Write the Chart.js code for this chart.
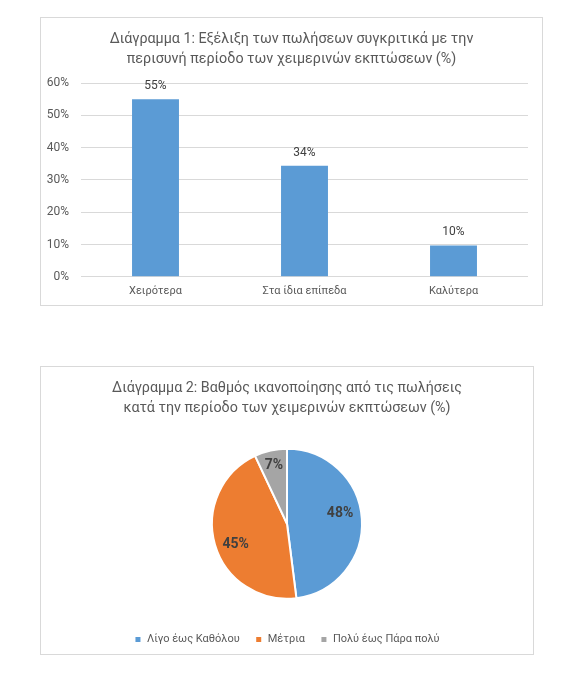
<!DOCTYPE html>
<html>
<head>
<meta charset="utf-8">
<script src="https://cdn.jsdelivr.net/npm/chart.js@4.4.1/dist/chart.umd.min.js"></script>
<style>
  html, body { margin: 0; padding: 0; background: #ffffff; }
  body { width: 571px; height: 681px; position: relative; overflow: hidden; }
  .box { position: absolute; border: 1px solid #d9d9d9; box-sizing: border-box; }
  canvas { position: absolute; }
</style>
</head>
<body>
<div class="box" style="left:40px;top:17px;width:503px;height:289px;"></div>
<canvas id="bar" style="left:40px;top:17px;" width="503" height="289"></canvas>
<div class="box" style="left:40px;top:366px;width:494px;height:289px;"></div>
<canvas id="pie" style="left:40px;top:366px;" width="494" height="289"></canvas>
<script>
// ---- Data ----
const barTitle = ["Διάγραμμα 1: Εξέλιξη των πωλήσεων συγκριτικά με την", "περισυνή περίοδο των χειμερινών εκπτώσεων (%)"];
const barCategories = ["Χειρότερα", "Στα ίδια επίπεδα", "Καλύτερα"];
const barValues = [55, 34.4, 9.7];
const barTickMax = 60;
const barTickStep = 10;

const pieTitle = ["Διάγραμμα 2: Βαθμός ικανοποίησης από τις πωλήσεις", "κατά την περίοδο των χειμερινών εκπτώσεων (%)"];
const pieCategories = ["Λίγο έως Καθόλου", "Μέτρια", "Πολύ έως Πάρα πολύ"];
const pieValues = [48, 45, 7];

// ---- Styles ----
const FONT = "Roboto, 'Noto Sans', sans-serif";
const TEXT = "#595959";
const DARK = "#404040";
const GRID = "#d9d9d9";
const pieColors = ["#5B9BD5", "#ED7D31", "#A5A5A5"];
// label placement tweaks (fraction of radius, angle shift in degrees)
const pieLabelRadius = [0.72, 0.74, 0.8];
const pieLabelShift = [-7, -6, 0];

Chart.defaults.font.family = FONT;
Chart.defaults.color = TEXT;
Chart.defaults.animation = false;

const barLabelPlugin = {
  id: 'barLabels',
  afterDatasetsDraw(chart) {
    const ctx = chart.ctx;
    const meta = chart.getDatasetMeta(0);
    ctx.save();
    ctx.font = "12px " + FONT;
    ctx.fillStyle = DARK;
    ctx.textAlign = 'center';
    ctx.textBaseline = 'middle';
    meta.data.forEach((bar, i) => {
      const v = chart.data.datasets[0].data[i];
      ctx.fillText(Math.round(v) + '%', bar.x, bar.y - 13);
    });
    ctx.restore();
  }
};

new Chart(document.getElementById('bar'), {
  type: 'bar',
  data: {
    labels: barCategories,
    datasets: [{
      data: barValues,
      backgroundColor: "#5B9BD5",
      barPercentage: 0.315,
      categoryPercentage: 1.0,
      yAxisID: 'y'
    }]
  },
  options: {
    responsive: false,
    layout: { padding: { left: 0, right: 0, top: 0, bottom: 0 } },
    plugins: {
      legend: { display: false },
      tooltip: { enabled: false },
      title: {
        display: true,
        text: barTitle,
        color: TEXT,
        font: { size: 14.3, weight: 'normal', lineHeight: 20 / 14.3 },
        padding: { top: 12, bottom: 14 }
      }
    },
    scales: {
      x: {
        grid: { display: false, drawTicks: false },
        border: { display: false },
        ticks: { color: TEXT, font: { size: 11 }, padding: 8 }
      },
      y: {
        position: 'left',
        min: 0,
        max: barTickMax,
        grid: { color: GRID, lineWidth: 1, drawTicks: false },
        border: { display: false },
        ticks: {
          stepSize: barTickStep,
          color: TEXT,
          font: { size: 12 },
          padding: 12,
          callback: v => v + '%'
        },
        afterFit(s) { s.width = 41; }
      },
      yRight: {
        position: 'right',
        grid: { display: false, drawTicks: false },
        border: { display: false },
        ticks: { display: false },
        afterFit(s) { s.width = 15; }
      }
    }
  },
  plugins: [barLabelPlugin]
});

const pieLabelPlugin = {
  id: 'pieLabels',
  afterDatasetsDraw(chart) {
    const ctx = chart.ctx;
    const meta = chart.getDatasetMeta(0);
    ctx.save();
    ctx.font = "bold 14px " + FONT;
    ctx.fillStyle = DARK;
    ctx.textAlign = 'center';
    ctx.textBaseline = 'middle';
    meta.data.forEach((arc, i) => {
      const mid = (arc.startAngle + arc.endAngle) / 2 + pieLabelShift[i] * Math.PI / 180;
      const r = arc.outerRadius * pieLabelRadius[i];
      const x = arc.x + Math.cos(mid) * r;
      const y = arc.y + Math.sin(mid) * r;
      ctx.fillText(chart.data.datasets[0].data[i] + '%', x, y);
    });
    ctx.restore();
  }
};

new Chart(document.getElementById('pie'), {
  type: 'pie',
  data: {
    labels: pieCategories,
    datasets: [{
      data: pieValues,
      backgroundColor: pieColors,
      borderColor: "#ffffff",
      borderWidth: 2
    }]
  },
  options: {
    responsive: false,
    radius: 75,
    layout: { padding: 0 },
    plugins: {
      tooltip: { enabled: false },
      title: {
        display: true,
        text: pieTitle,
        color: TEXT,
        font: { size: 14.3, weight: 'normal', lineHeight: 20.5 / 14.3 },
        padding: { top: 12, bottom: 10 }
      },
      legend: {
        position: 'bottom',
        labels: {
          color: TEXT,
          font: { size: 11 },
          boxWidth: 7,
          boxHeight: 7,
          padding: 15.5
        }
      }
    }
  },
  plugins: [pieLabelPlugin]
});
</script>
</body>
</html>
